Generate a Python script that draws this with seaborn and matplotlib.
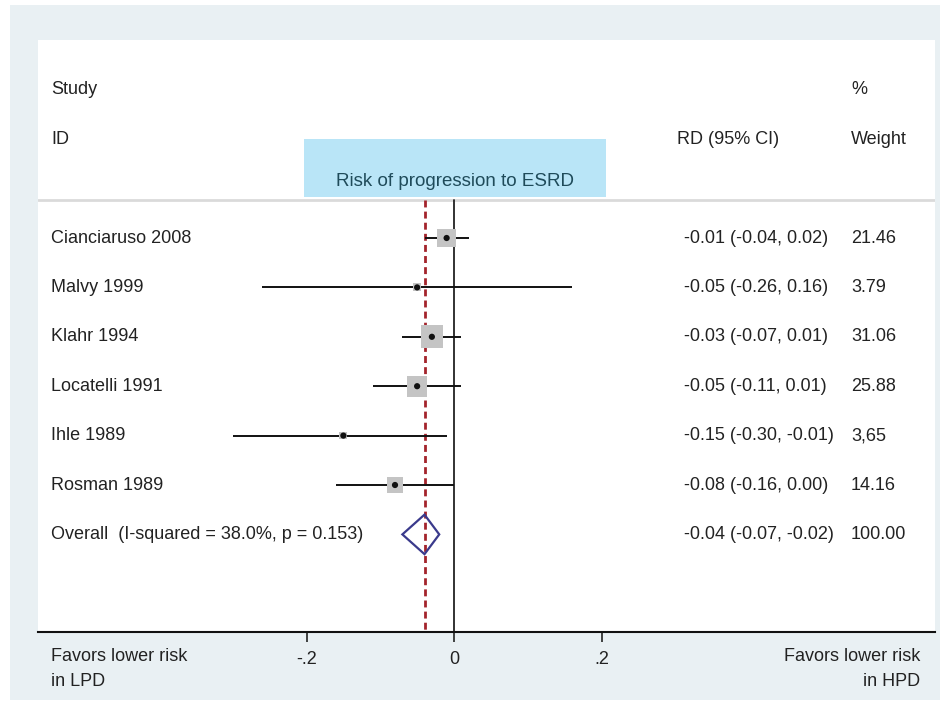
import numpy as np
import pandas as pd
import matplotlib
matplotlib.use("Agg")
import matplotlib.pyplot as plt
import matplotlib.transforms as mtransforms
from matplotlib.patches import Rectangle, Polygon
import seaborn as sns

# ---------------- data ----------------
studies = ["Cianciaruso 2008", "Malvy 1999", "Klahr 1994", "Locatelli 1991", "Ihle 1989", "Rosman 1989"]
rd = [-0.01, -0.05, -0.03, -0.05, -0.15, -0.08]
ci_low = [-0.04, -0.26, -0.07, -0.11, -0.30, -0.16]
ci_high = [0.02, 0.16, 0.01, 0.01, -0.01, 0.00]
weights = [21.46, 3.79, 31.06, 25.88, 3.65, 14.16]
rd_labels = ["-0.01 (-0.04, 0.02)", "-0.05 (-0.26, 0.16)", "-0.03 (-0.07, 0.01)",
             "-0.05 (-0.11, 0.01)", "-0.15 (-0.30, -0.01)", "-0.08 (-0.16, 0.00)"]
weight_labels = ["21.46", "3.79", "31.06", "25.88", "3,65", "14.16"]
overall_label = "Overall  (I-squared = 38.0%, p = 0.153)"
overall_rd = -0.04
overall_low = -0.07
overall_high = -0.02
overall_rd_label = "-0.04 (-0.07, -0.02)"
overall_weight_label = "100.00"
xticks = [-0.2, 0.0, 0.2]
xtick_labels = ["-.2", "0", ".2"]
title = "Risk of progression to ESRD"
left_note = "Favors lower risk\nin LPD"
right_note = "Favors lower risk\nin HPD"

df = pd.DataFrame({"study": studies, "rd": rd, "lo": ci_low, "hi": ci_high,
                   "w": weights, "row": np.arange(len(studies))})

# ---------------- styling ----------------
sns.set_theme(style="white")
plt.rcParams["font.family"] = ["Liberation Sans", "DejaVu Sans"]
TXT = "#222222"
FS = 13

W, H = 940, 704
fig = plt.figure(figsize=(W / 100, H / 100), dpi=100, facecolor="white")
fig.patches.append(Rectangle((10 / W, 1 - 700 / H), (W - 10) / W, (700 - 5) / H,
                             transform=fig.transFigure, facecolor="#e9f0f3",
                             edgecolor="none", zorder=-10))
ax = fig.add_axes([38 / W, 1 - 632 / H, (935 - 38) / W, (632 - 40) / H])
ax.set_zorder(1)
ax.set_facecolor("white")

# scales: x -> RD units, y -> row index
px_per_unit = 737.5
x0 = 454
ax.set_xlim((38 - x0) / px_per_unit, (935 - x0) / px_per_unit)
rowpx = 49.4
row0 = 238
ax.set_ylim((632 - row0) / rowpx, (40 - row0) / rowpx)

header_y = (200 - row0) / rowpx
ybot = ax.get_ylim()[0]

# header separator line
ax.axhline(header_y, color="#dadada", lw=2, zorder=1)

# reference lines
ax.plot([0, 0], [header_y, ybot], color="#222222", lw=1.3, zorder=2)
ax.plot([overall_rd, overall_rd], [header_y, ybot], color="#a3242c", lw=2,
        ls=(0, (2.5, 1.5)), zorder=2)

# confidence intervals
ax.hlines(df["row"], df["lo"], df["hi"], color="#111111", lw=1.4, zorder=3)

# weight boxes
sns.scatterplot(data=df, x="rd", y="row", size="w",
                sizes=(min(weights) * 8.6, max(weights) * 8.6),
                marker="s", color="#c4c4c4", edgecolor="none", legend=False,
                ax=ax, zorder=4)
# point estimates
sns.scatterplot(data=df, x="rd", y="row", marker="o", s=20, color="#111111",
                edgecolor="none", legend=False, ax=ax, zorder=5)

# overall diamond
orow = len(studies)
h = 0.4
ax.add_patch(Polygon([(overall_low, orow), (overall_rd, orow - h),
                      (overall_high, orow), (overall_rd, orow + h)],
                     closed=True, fill=False, edgecolor="#3a3a8c", lw=1.6, zorder=6))

# text columns
tr = mtransforms.blended_transform_factory(ax.transAxes, ax.transData)
xc_id = (51 - 38) / 897
xc_rd = (684 - 38) / 897
xc_w = (851 - 38) / 897
ax.text(xc_id, -3, "Study", transform=tr, ha="left", va="center", fontsize=FS, color=TXT)
ax.text(xc_id, -2, "ID", transform=tr, ha="left", va="center", fontsize=FS, color=TXT)
ax.text((677 - 38) / 897, -2, "RD (95% CI)", transform=tr, ha="left", va="center", fontsize=FS, color=TXT)
ax.text(xc_w, -3, "%", transform=tr, ha="left", va="center", fontsize=FS, color=TXT)
ax.text(xc_w, -2, "Weight", transform=tr, ha="left", va="center", fontsize=FS, color=TXT)

for i in range(len(studies)):
    ax.text(xc_id, i, studies[i], transform=tr, ha="left", va="center", fontsize=FS, color=TXT)
    ax.text(xc_rd, i, rd_labels[i], transform=tr, ha="left", va="center", fontsize=FS, color=TXT)
    ax.text(xc_w, i, weight_labels[i], transform=tr, ha="left", va="center", fontsize=FS, color=TXT)
ax.text(xc_id, orow, overall_label, transform=tr, ha="left", va="center", fontsize=FS, color=TXT)
ax.text(xc_rd, orow, overall_rd_label, transform=tr, ha="left", va="center", fontsize=FS, color=TXT)
ax.text(xc_w, orow, overall_weight_label, transform=tr, ha="left", va="center", fontsize=FS, color=TXT)

# title box
box_top = (139 - row0) / rowpx
box_bot = (197 - row0) / rowpx
ax.add_patch(Rectangle(((304 - x0) / px_per_unit, box_top),
                       (606 - 304) / px_per_unit, box_bot - box_top,
                       facecolor="#b9e5f7", edgecolor="none", zorder=1))
ax.text((455 - x0) / px_per_unit, (181 - row0) / rowpx, title, ha="center", va="center",
        fontsize=13.5, color="#1f4b5a", zorder=2)

# axes
for s in ["top", "left", "right"]:
    ax.spines[s].set_visible(False)
ax.spines["bottom"].set_color("#111111")
ax.spines["bottom"].set_linewidth(1.5)
ax.set_yticks([])
ax.set_xticks(xticks)
ax.set_xticklabels(xtick_labels, fontsize=FS, color=TXT)
ax.tick_params(axis="x", direction="out", length=7.5, width=1.1, color="#111111", pad=6,
               bottom=True)
ax.set_xlabel("")
ax.set_ylabel("")

fig.text(51 / W, 1 - 669 / H, left_note, ha="left", va="center", fontsize=FS,
         color=TXT, linespacing=1.65)
fig.text(920 / W, 1 - 669 / H, right_note, ha="right", va="center", fontsize=FS,
         color=TXT, linespacing=1.65, multialignment="right")

fig.savefig("out.png", dpi=100, facecolor=fig.get_facecolor())
